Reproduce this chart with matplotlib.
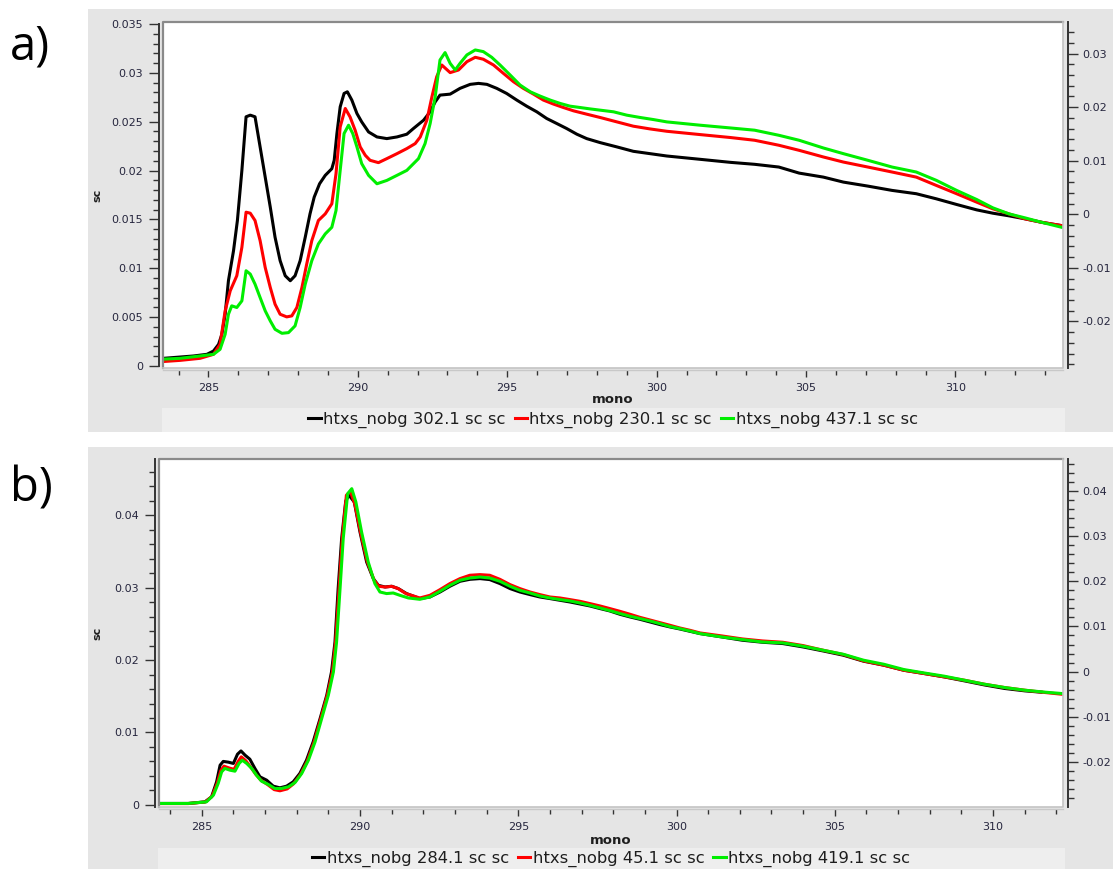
import matplotlib
matplotlib.use("Agg")
import matplotlib.pyplot as plt
from matplotlib.patches import Rectangle
from matplotlib.ticker import MultipleLocator, FuncFormatter

plt.rcParams["axes.unicode_minus"] = False
plt.rcParams["font.family"] = ["DejaVu Sans"]

# ---------------------------------------------------------------- data
# Panel a: three carbon K-edge spectra (energy in eV, signal "sc")
a_black_e = [283.50, 284.50, 284.95, 285.17, 285.34, 285.45, 285.56, 285.67, 285.84, 285.97,
             286.12, 286.26, 286.40, 286.56, 286.73, 286.90, 287.07, 287.23, 287.40, 287.57,
             287.74, 287.90, 288.07, 288.24, 288.40, 288.54, 288.72, 288.91, 289.13, 289.21,
             289.30, 289.41, 289.54, 289.65, 289.80, 289.97, 290.13, 290.36, 290.64, 290.97,
             291.31, 291.64, 291.86, 292.20, 292.42, 292.59, 292.75, 293.09, 293.42, 293.76,
             294.04, 294.32, 294.65, 294.98, 295.32, 295.65, 295.99, 296.32, 296.66, 296.99,
             297.33, 297.66, 298.11, 298.67, 299.22, 299.78, 300.34, 300.90, 301.46, 302.47,
             303.28, 304.09, 304.77, 305.58, 306.25, 307.07, 307.88, 308.69, 309.36, 310.04,
             310.71, 311.25, 311.79, 312.33, 312.88, 313.55]
a_black_sc = [0.00079, 0.00103, 0.00120, 0.00154, 0.00222, 0.00325, 0.00530, 0.00873, 0.01180, 0.01489,
              0.02002, 0.02550, 0.02567, 0.02550, 0.02242, 0.01934, 0.01626, 0.01318, 0.01078, 0.00924,
              0.00873, 0.00924, 0.01078, 0.01318, 0.01557, 0.01728, 0.01865, 0.01951, 0.02019, 0.02105,
              0.02378, 0.02652, 0.02789, 0.02806, 0.02721, 0.02584, 0.02498, 0.02395, 0.02344, 0.02327,
              0.02344, 0.02372, 0.02430, 0.02515, 0.02601, 0.02703, 0.02772, 0.02782, 0.02841, 0.02882,
              0.02892, 0.02882, 0.02841, 0.02789, 0.02721, 0.02659, 0.02601, 0.02533, 0.02481, 0.02430,
              0.02372, 0.02327, 0.02286, 0.02242, 0.02197, 0.02173, 0.02149, 0.02132, 0.02115, 0.02084,
              0.02064, 0.02036, 0.01974, 0.01933, 0.01882, 0.01841, 0.01797, 0.01763, 0.01711, 0.01653,
              0.01598, 0.01564, 0.01537, 0.01506, 0.01471, 0.01437]

a_red_e = [283.38, 284.05, 284.72, 285.17, 285.39, 285.56, 285.73, 285.95, 286.12, 286.26,
           286.40, 286.56, 286.73, 286.90, 287.07, 287.23, 287.40, 287.62, 287.79, 287.96,
           288.13, 288.29, 288.46, 288.68, 288.91, 289.13, 289.27, 289.41, 289.58, 289.74,
           289.91, 290.08, 290.25, 290.41, 290.69, 290.97, 291.31, 291.64, 291.92, 292.09,
           292.31, 292.48, 292.64, 292.81, 293.09, 293.37, 293.65, 293.93, 294.20, 294.54,
           294.87, 295.21, 295.54, 295.88, 296.21, 296.55, 296.88, 297.22, 297.66, 298.11,
           298.67, 299.22, 299.78, 300.34, 300.90, 301.46, 302.47, 303.28, 304.09, 304.77,
           305.58, 306.25, 307.07, 307.88, 308.69, 309.36, 310.04, 310.71, 311.25, 311.79,
           312.33, 312.88, 313.55]
a_red_sc = [0.00044, 0.00058, 0.00079, 0.00120, 0.00222, 0.00565, 0.00770, 0.00924, 0.01215, 0.01574,
            0.01564, 0.01489, 0.01283, 0.01009, 0.00804, 0.00633, 0.00530, 0.00503, 0.00513, 0.00599,
            0.00804, 0.01044, 0.01283, 0.01489, 0.01557, 0.01660, 0.01968, 0.02447, 0.02635, 0.02549,
            0.02413, 0.02242, 0.02156, 0.02105, 0.02081, 0.02122, 0.02173, 0.02225, 0.02276, 0.02344,
            0.02515, 0.02755, 0.02960, 0.03080, 0.03002, 0.03029, 0.03114, 0.03159, 0.03139, 0.03080,
            0.02995, 0.02909, 0.02841, 0.02782, 0.02721, 0.02680, 0.02645, 0.02611, 0.02577, 0.02543,
            0.02498, 0.02454, 0.02426, 0.02402, 0.02385, 0.02368, 0.02338, 0.02310, 0.02259, 0.02207,
            0.02139, 0.02087, 0.02036, 0.01985, 0.01933, 0.01848, 0.01763, 0.01677, 0.01609, 0.01557,
            0.01506, 0.01471, 0.01437]

a_green_e = [283.38, 284.05, 284.72, 285.17, 285.39, 285.56, 285.67, 285.78, 285.95, 286.12,
             286.26, 286.40, 286.56, 286.73, 286.90, 287.07, 287.23, 287.46, 287.68, 287.90,
             288.07, 288.24, 288.46, 288.68, 288.91, 289.13, 289.27, 289.41, 289.54, 289.69,
             289.83, 289.97, 290.13, 290.36, 290.64, 290.97, 291.31, 291.64, 291.75, 292.03,
             292.25, 292.42, 292.59, 292.75, 292.92, 293.09, 293.26, 293.42, 293.65, 293.93,
             294.20, 294.48, 294.76, 295.10, 295.43, 295.77, 296.10, 296.44, 296.77, 297.10,
             297.44, 297.77, 298.11, 298.56, 299.00, 299.45, 299.89, 300.34, 300.90, 301.46,
             302.47, 303.28, 304.09, 304.77, 305.58, 306.25, 307.07, 307.88, 308.69, 309.36,
             310.04, 310.71, 311.25, 311.79, 312.33, 312.88, 313.55]
a_green_sc = [0.00069, 0.00079, 0.00103, 0.00120, 0.00171, 0.00325, 0.00530, 0.00616, 0.00599, 0.00667,
              0.00975, 0.00941, 0.00838, 0.00701, 0.00565, 0.00462, 0.00376, 0.00335, 0.00342, 0.00411,
              0.00599, 0.00838, 0.01078, 0.01249, 0.01352, 0.01420, 0.01591, 0.02002, 0.02379, 0.02464,
              0.02379, 0.02242, 0.02071, 0.01951, 0.01865, 0.01899, 0.01951, 0.02002, 0.02036, 0.02122,
              0.02276, 0.02481, 0.02755, 0.03131, 0.03207, 0.03097, 0.03029, 0.03097, 0.03183, 0.03234,
              0.03217, 0.03159, 0.03080, 0.02977, 0.02875, 0.02806, 0.02762, 0.02721, 0.02687, 0.02659,
              0.02645, 0.02631, 0.02618, 0.02601, 0.02567, 0.02543, 0.02522, 0.02498, 0.02481, 0.02464,
              0.02436, 0.02413, 0.02361, 0.02310, 0.02231, 0.02173, 0.02105, 0.02036, 0.01985, 0.01900,
              0.01797, 0.01704, 0.01619, 0.01557, 0.01516, 0.01471, 0.01420]

# Panel b: three spectra that almost coincide
b_black_e = [283.63, 284.57, 285.10, 285.31, 285.47, 285.58, 285.68, 285.84, 286.00, 286.13,
             286.24, 286.37, 286.52, 286.68, 286.84, 287.05, 287.26, 287.47, 287.68, 287.89,
             288.10, 288.31, 288.52, 288.74, 288.95, 289.10, 289.21, 289.31, 289.42, 289.55,
             289.65, 289.82, 290.00, 290.21, 290.42, 290.58, 290.79, 291.00, 291.21, 291.47,
             291.89, 292.21, 292.53, 292.84, 293.16, 293.47, 293.79, 294.10, 294.42, 294.74,
             295.05, 295.37, 295.68, 296.00, 296.32, 296.63, 296.95, 297.26, 297.58, 297.89,
             298.21, 298.53, 298.84, 299.16, 299.47, 299.79, 300.10, 300.42, 300.74, 301.44,
             302.08, 302.72, 303.36, 304.00, 304.63, 305.27, 305.91, 306.55, 307.18, 307.82,
             308.46, 309.10, 309.73, 310.37, 311.01, 311.52]
b_black_sc = [0.00019, 0.00019, 0.00041, 0.00110, 0.00318, 0.00548, 0.00600, 0.00590, 0.00572, 0.00700,
              0.00745, 0.00686, 0.00631, 0.00503, 0.00387, 0.00341, 0.00258, 0.00235, 0.00258, 0.00318,
              0.00434, 0.00617, 0.00870, 0.01193, 0.01515, 0.01837, 0.02251, 0.02989, 0.03680, 0.04200,
              0.04280, 0.04185, 0.03771, 0.03356, 0.03127, 0.03034, 0.03011, 0.03021, 0.02989, 0.02920,
              0.02851, 0.02873, 0.02942, 0.03021, 0.03090, 0.03117, 0.03127, 0.03113, 0.03058, 0.02989,
              0.02942, 0.02906, 0.02873, 0.02851, 0.02827, 0.02804, 0.02776, 0.02749, 0.02713, 0.02680,
              0.02634, 0.02597, 0.02565, 0.02528, 0.02492, 0.02459, 0.02431, 0.02399, 0.02367, 0.02320,
              0.02275, 0.02247, 0.02229, 0.02182, 0.02127, 0.02068, 0.01985, 0.01930, 0.01860, 0.01815,
              0.01768, 0.01713, 0.01657, 0.01608, 0.01575, 0.01557]

b_red_e = [283.63, 284.57, 285.12, 285.33, 285.49, 285.60, 285.70, 285.86, 286.02, 286.15,
           286.25, 286.39, 286.55, 286.71, 286.87, 287.08, 287.29, 287.47, 287.70, 287.90,
           288.12, 288.33, 288.55, 288.76, 288.97, 289.13, 289.23, 289.34, 289.44, 289.57,
           289.70, 289.84, 290.02, 290.23, 290.45, 290.60, 290.80, 291.00, 291.20, 291.45,
           291.89, 292.21, 292.53, 292.84, 293.16, 293.47, 293.79, 294.10, 294.42, 294.74,
           295.05, 295.37, 295.68, 296.00, 296.32, 296.63, 296.95, 297.26, 297.58, 297.89,
           298.21, 298.53, 298.84, 299.16, 299.47, 299.79, 300.10, 300.42, 300.74, 301.44,
           302.08, 302.72, 303.36, 304.00, 304.63, 305.27, 305.91, 306.55, 307.18, 307.82,
           308.46, 309.10, 309.73, 310.37, 311.01, 311.65, 312.16]
b_red_sc = [0.00017, 0.00017, 0.00040, 0.00120, 0.00300, 0.00470, 0.00535, 0.00510, 0.00490, 0.00600,
            0.00663, 0.00610, 0.00520, 0.00420, 0.00340, 0.00280, 0.00210, 0.00194, 0.00220, 0.00290,
            0.00420, 0.00600, 0.00870, 0.01190, 0.01520, 0.01840, 0.02260, 0.03000, 0.03680, 0.04280,
            0.04330, 0.04150, 0.03760, 0.03360, 0.03100, 0.03020, 0.03010, 0.03020, 0.02990, 0.02920,
            0.02859, 0.02896, 0.02975, 0.03058, 0.03127, 0.03173, 0.03182, 0.03173, 0.03117, 0.03044,
            0.02989, 0.02942, 0.02906, 0.02873, 0.02859, 0.02837, 0.02813, 0.02782, 0.02749, 0.02713,
            0.02675, 0.02634, 0.02592, 0.02555, 0.02519, 0.02482, 0.02445, 0.02413, 0.02376, 0.02334,
            0.02293, 0.02265, 0.02247, 0.02201, 0.02137, 0.02077, 0.01989, 0.01930, 0.01860, 0.01815,
            0.01768, 0.01722, 0.01667, 0.01621, 0.01584, 0.01552, 0.01529]

b_green_e = [283.63, 284.57, 285.15, 285.37, 285.52, 285.63, 285.73, 285.89, 286.05, 286.18,
             286.28, 286.42, 286.58, 286.73, 286.89, 287.10, 287.31, 287.52, 287.74, 287.95,
             288.16, 288.37, 288.58, 288.79, 289.00, 289.16, 289.26, 289.37, 289.47, 289.61,
             289.74, 289.87, 290.05, 290.26, 290.47, 290.63, 290.84, 291.05, 291.26, 291.53,
             291.89, 292.21, 292.53, 292.84, 293.16, 293.47, 293.79, 294.10, 294.42, 294.74,
             295.05, 295.37, 295.68, 296.00, 296.32, 296.63, 296.95, 297.26, 297.58, 297.89,
             298.21, 298.53, 298.84, 299.16, 299.47, 299.79, 300.10, 300.42, 300.74, 301.44,
             302.08, 302.72, 303.36, 304.00, 304.63, 305.27, 305.91, 306.55, 307.18, 307.82,
             308.46, 309.10, 309.73, 310.37, 311.01, 311.65, 312.16]
b_green_sc = [0.00019, 0.00019, 0.00041, 0.00134, 0.00296, 0.00456, 0.00503, 0.00479, 0.00465, 0.00572,
              0.00617, 0.00572, 0.00503, 0.00410, 0.00327, 0.00282, 0.00226, 0.00226, 0.00249, 0.00309,
              0.00434, 0.00617, 0.00870, 0.01193, 0.01515, 0.01837, 0.02251, 0.02989, 0.03680, 0.04301,
              0.04370, 0.04185, 0.03771, 0.03356, 0.03058, 0.02942, 0.02920, 0.02928, 0.02896, 0.02859,
              0.02841, 0.02873, 0.02952, 0.03034, 0.03104, 0.03135, 0.03149, 0.03135, 0.03090, 0.03021,
              0.02965, 0.02928, 0.02887, 0.02859, 0.02837, 0.02818, 0.02790, 0.02758, 0.02721, 0.02685,
              0.02644, 0.02606, 0.02575, 0.02541, 0.02505, 0.02464, 0.02436, 0.02403, 0.02367, 0.02320,
              0.02284, 0.02251, 0.02238, 0.02192, 0.02137, 0.02081, 0.01999, 0.01943, 0.01870, 0.01823,
              0.01778, 0.01722, 0.01667, 0.01621, 0.01584, 0.01557, 0.01539]

a_labels = ["htxs_nobg 302.1 sc sc", "htxs_nobg 230.1 sc sc", "htxs_nobg 437.1 sc sc"]
b_labels = ["htxs_nobg 284.1 sc sc", "htxs_nobg 45.1 sc sc", "htxs_nobg 419.1 sc sc"]
series_colors = ["#000000", "#ff0000", "#00ee00"]

# ---------------------------------------------------------------- layout helpers
W, H = 1113, 869
PANEL_BG = "#e5e5e5"
LEGEND_BG = "#eeeeee"
TICK_TEXT = "#26263e"
AXIS_DARK = "#333333"

fig = plt.figure(figsize=(W / 100, H / 100), dpi=100)
fig.patch.set_facecolor("white")


def frac_rect(x0, y0, x1, y1):
    """Pixel box (top-left origin) -> figure fraction [left, bottom, width, height]."""
    return [x0 / W, 1 - y1 / H, (x1 - x0) / W, (y1 - y0) / H]


def add_bg(x0, y0, x1, y1, color):
    l, b, w, h = frac_rect(x0, y0, x1, y1)
    fig.patches.append(Rectangle((l, b), w, h, transform=fig.transFigure,
                                 facecolor=color, edgecolor="none", zorder=-10))


def sci_fmt(v, _pos):
    if abs(v) < 1e-12:
        return "0"
    return ("%.3f" % v).rstrip("0").rstrip(".")


def draw_panel(box, legend_box, xlim, ylim, ylim_r, left_step, left_minor, left_bounds,
               series, labels, xlabel_y, legend_y, tag, tag_y):
    x0, y0, x1, y1 = box
    ax = fig.add_axes(frac_rect(x0, y0, x1, y1))
    ax.set_facecolor("white")
    ax.set_xlim(*xlim)
    ax.set_ylim(*ylim)

    lines = []
    for (e, s), lab, col in zip(series, labels, series_colors):
        ln, = ax.plot(e, s, color=col, lw=2.2, label=lab, solid_joinstyle="round", zorder=3)
        lines.append(ln)

    # bevelled plot frame
    ax.plot([0, 0, 1], [0, 1, 1], transform=ax.transAxes, color="#8a8a8a", lw=1.6,
            clip_on=False, zorder=4)
    ax.plot([0, 1, 1], [0, 0, 1], transform=ax.transAxes, color="#c4c4c4", lw=1.2,
            clip_on=False, zorder=4)

    for side in ("top", "right"):
        ax.spines[side].set_visible(False)
    ax.spines["left"].set_position(("outward", 3.0))
    ax.spines["left"].set_color(AXIS_DARK)
    ax.spines["left"].set_linewidth(1.4)
    if left_bounds is not None:
        ax.spines["left"].set_bounds(*left_bounds)
    ax.spines["bottom"].set_position(("outward", 1.5))
    ax.spines["bottom"].set_color("#c8c8c8")
    ax.spines["bottom"].set_linewidth(1.0)

    ax.xaxis.set_major_locator(MultipleLocator(5))
    ax.xaxis.set_minor_locator(MultipleLocator(1))
    ax.xaxis.set_major_formatter(FuncFormatter(lambda v, p: "%d" % round(v)))
    ax.yaxis.set_major_locator(MultipleLocator(left_step))
    ax.yaxis.set_minor_locator(MultipleLocator(left_minor))
    ax.yaxis.set_major_formatter(FuncFormatter(sci_fmt))

    ax.tick_params(axis="x", which="major", direction="out", length=5, width=1.0,
                   color=AXIS_DARK, labelsize=8, labelcolor=TICK_TEXT, pad=4)
    ax.tick_params(axis="x", which="minor", direction="out", length=3.4, width=1.0,
                   color=AXIS_DARK)
    ax.tick_params(axis="y", which="major", direction="out", length=7.5, width=1.0,
                   color=AXIS_DARK, labelsize=8, labelcolor=TICK_TEXT, pad=4)
    ax.tick_params(axis="y", which="minor", direction="out", length=4, width=1.0,
                   color=AXIS_DARK)

    ax.set_xlabel("mono", fontsize=9.5, fontweight="bold", color="#1e1e1e")
    ax.xaxis.label.set_va("center")
    ax.xaxis.set_label_coords(0.5, -(xlabel_y - y1) / (y1 - y0))
    ax.set_ylabel("sc", fontsize=8, fontweight="bold", color="#1e1e1e")
    ax.yaxis.label.set_va("center")
    ax.yaxis.set_label_coords((97 - x0) / (x1 - x0), 0.5)

    # right-hand scale
    axr = ax.twinx()
    axr.set_ylim(*ylim_r)
    for side in ("top", "left", "bottom"):
        axr.spines[side].set_visible(False)
    axr.spines["right"].set_position(("outward", 3.5))
    axr.spines["right"].set_color(AXIS_DARK)
    axr.spines["right"].set_linewidth(1.4)
    axr.yaxis.set_major_locator(MultipleLocator(0.01))
    axr.yaxis.set_minor_locator(MultipleLocator(0.002))
    axr.yaxis.set_major_formatter(FuncFormatter(sci_fmt))
    axr.tick_params(axis="y", which="major", direction="out", length=7.5, width=1.0,
                    color=AXIS_DARK, labelsize=8, labelcolor=TICK_TEXT, pad=3)
    axr.tick_params(axis="y", which="minor", direction="out", length=4, width=1.0,
                    color=AXIS_DARK)

    # legend strip under the plot
    add_bg(*legend_box, LEGEND_BG)
    ax.legend(lines, labels, loc="center", ncol=3, frameon=False,
              bbox_to_anchor=(((x0 + x1) / 2) / W, 1 - legend_y / H),
              bbox_transform=fig.transFigure, fontsize=11.8, handlelength=0.75,
              handletextpad=0.15, columnspacing=0.55, borderpad=0.0,
              labelcolor="#1e1e1e")

    fig.text(10 / W, 1 - tag_y / H, tag, fontsize=34, family=["Open Sans", "DejaVu Sans"],
             ha="left", va="center", color="black")
    return ax


# grey panel backgrounds
add_bg(88, 9, W, 432, PANEL_BG)
add_bg(88, 447, W, H, PANEL_BG)

draw_panel(box=(163, 22, 1063, 368), legend_box=(162, 408, 1065, 432),
           xlim=(283.48, 313.60), ylim=(-0.0002, 0.0352), ylim_r=(-0.0287, 0.0359),
           left_step=0.005, left_minor=0.001, left_bounds=(0, 0.035),
           series=[(a_black_e, a_black_sc), (a_red_e, a_red_sc), (a_green_e, a_green_sc)],
           labels=a_labels, xlabel_y=400, legend_y=420, tag="a)", tag_y=47)

draw_panel(box=(159, 459, 1063, 807), legend_box=(158, 848, 1065, H),
           xlim=(283.65, 312.21), ylim=(-0.0003, 0.0478), ylim_r=(-0.0299, 0.0470),
           left_step=0.01, left_minor=0.002, left_bounds=None,
           series=[(b_black_e, b_black_sc), (b_red_e, b_red_sc), (b_green_e, b_green_sc)],
           labels=b_labels, xlabel_y=840, legend_y=859, tag="b)", tag_y=489)

fig.savefig("out.png", dpi=100, facecolor=fig.get_facecolor())
